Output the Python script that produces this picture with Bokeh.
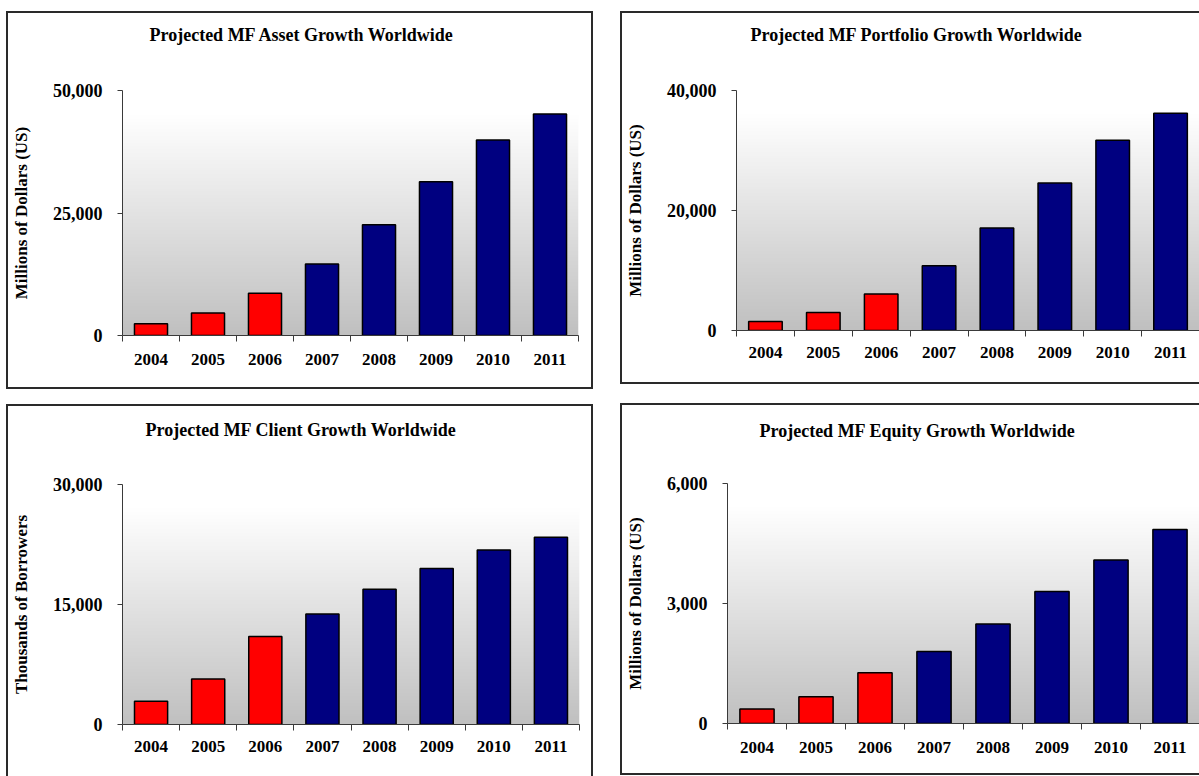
import numpy as np
from bokeh.plotting import figure
from bokeh.models import Range1d, FixedTicker, NumeralTickFormatter, Title
from bokeh.layouts import column, row
from bokeh.embed import file_html
from bokeh.resources import INLINE

# ---- data -------------------------------------------------------------
years = ["2004", "2005", "2006", "2007", "2008", "2009", "2010", "2011"]
last_actual_year = "2006"

asset_values = [2400, 4600, 8600, 14600, 22600, 31400, 39900, 45200]
portfolio_values = [1500, 3000, 6100, 10800, 17100, 24600, 31700, 36200]
client_values = [2900, 5700, 11000, 13800, 16900, 19500, 21800, 23400]
equity_values = [360, 670, 1270, 1800, 2490, 3300, 4090, 4850]

asset_ticks = [0, 25000, 50000]
portfolio_ticks = [0, 20000, 40000]
client_ticks = [0, 15000, 30000]
equity_ticks = [0, 3000, 6000]

# ---- styling ------------------------------------------------------------
FONT = "Liberation Serif"
ACTUAL = "#FF0000"
PROJECTED = "#000080"
AXIS = "#3a3a3a"
FRAME = "2px solid #2a2a2a"


def gradient(n=256):
    """Vertical white-to-grey wash for the plot area (row 0 = bottom)."""
    f = np.linspace(0.0, 1.0, n)
    g = np.clip(192 + 63 * f / 0.9, 0, 255).astype(np.uint8)
    img = np.empty((n, 2), dtype=np.uint32)
    view = img.view(dtype=np.uint8).reshape((n, 2, 4))
    view[..., 0] = g[:, None]
    view[..., 1] = g[:, None]
    view[..., 2] = g[:, None]
    view[..., 3] = 255
    return img


def panel(title, ylabel, values, yticks, width, height, borders, margin,
          mb_left, mb_right, mb_top, mb_bottom, title_offset, title_gap,
          xlabel_standoff):
    n = len(years)
    ymax = yticks[-1]
    p = figure(width=width, height=height, output_backend="svg",
               toolbar_location=None, title=None, x_range=Range1d(0, n),
               y_range=Range1d(0, ymax),
               min_border_left=mb_left, min_border_right=mb_right,
               min_border_top=mb_top, min_border_bottom=mb_bottom,
               background_fill_color="white", border_fill_color="white",
               outline_line_color=None, margin=margin)

    p.styles = {"border-" + side: FRAME for side in borders}

    p.image_rgba(image=[gradient()], x=0, y=0, dw=n, dh=ymax)

    centers = [i + 0.5 for i in range(n)]
    colors = [ACTUAL if y <= last_actual_year else PROJECTED for y in years]
    p.vbar(x=centers, top=values, width=0.58, fill_color=colors,
           line_color="black", line_width=1.5)

    p.xgrid.visible = False
    p.ygrid.visible = False

    # x axis: labels under each bar, tick marks on the category boundaries
    xa = p.xaxis[0]
    xa.ticker = FixedTicker(ticks=centers, minor_ticks=list(range(n + 1)))
    xa.major_label_overrides = {c: y for c, y in zip(centers, years)}
    xa.major_tick_line_color = None
    xa.major_tick_out = 0
    xa.major_tick_in = 0
    xa.minor_tick_out = 6
    xa.minor_tick_in = 0
    xa.minor_tick_line_color = AXIS
    xa.axis_line_color = AXIS
    xa.major_label_standoff = xlabel_standoff
    xa.major_label_text_font = FONT
    xa.major_label_text_font_style = "bold"
    xa.major_label_text_font_size = "17px"
    xa.major_label_text_color = "black"
    xa.axis_label_standoff = 0

    ya = p.yaxis[0]
    ya.ticker = FixedTicker(ticks=yticks)
    ya.formatter = NumeralTickFormatter(format="0,0")
    ya.major_tick_out = 5
    ya.major_tick_in = 0
    ya.minor_tick_line_color = None
    ya.major_tick_line_color = AXIS
    ya.axis_line_color = AXIS
    ya.major_label_standoff = 15
    ya.major_label_text_font = FONT
    ya.major_label_text_font_style = "bold"
    ya.major_label_text_font_size = "18px"
    ya.major_label_text_color = "black"
    ya.axis_label = ylabel
    ya.axis_label_standoff = 19
    ya.axis_label_text_font = FONT
    ya.axis_label_text_font_style = "bold"
    ya.axis_label_text_font_size = "17px"
    ya.axis_label_text_color = "black"

    # blank band between plot area and headline, then the headline itself
    p.add_layout(Title(text=" ", text_font_size="1px", standoff=title_gap), "above")
    p.add_layout(Title(text=title, text_font=FONT, text_font_style="bold",
                       text_font_size="18px", text_color="black",
                       align="left", offset=title_offset,
                       vertical_align="bottom", standoff=0), "above")
    return p


p_asset = panel("Projected MF Asset Growth Worldwide", "Millions of Dollars (US)",
                asset_values, asset_ticks, 587, 378,
                ["top", "right", "bottom", "left"], (11, 0, 0, 6),
                114, 17, 77, 56, 27, 43, 12)
p_portfolio = panel("Projected MF Portfolio Growth Worldwide", "Millions of Dollars (US)",
                    portfolio_values, portfolio_ticks, 579, 373,
                    ["top", "bottom", "left"], (11, 0, 0, 27),
                    113, 2, 77, 50, 14, 43, 10)
p_client = panel("Projected MF Client Growth Worldwide", "Thousands of Borrowers",
                 client_values, client_ticks, 587, 372,
                 ["top", "right", "left"], (15, 0, 0, 6),
                 114, 16, 78, 46, 23, 42, 10)
p_equity = panel("Projected MF Equity Growth Worldwide", "Millions of Dollars (US)",
                 equity_values, equity_ticks, 579, 372,
                 ["top", "bottom", "left"], (14, 0, 0, 27),
                 103, 2, 78, 54, 32, 40, 12)

layout = column(row(p_asset, p_portfolio), row(p_client, p_equity))

with open("out.html", "w") as fh:
    fh.write(file_html(layout, INLINE))
